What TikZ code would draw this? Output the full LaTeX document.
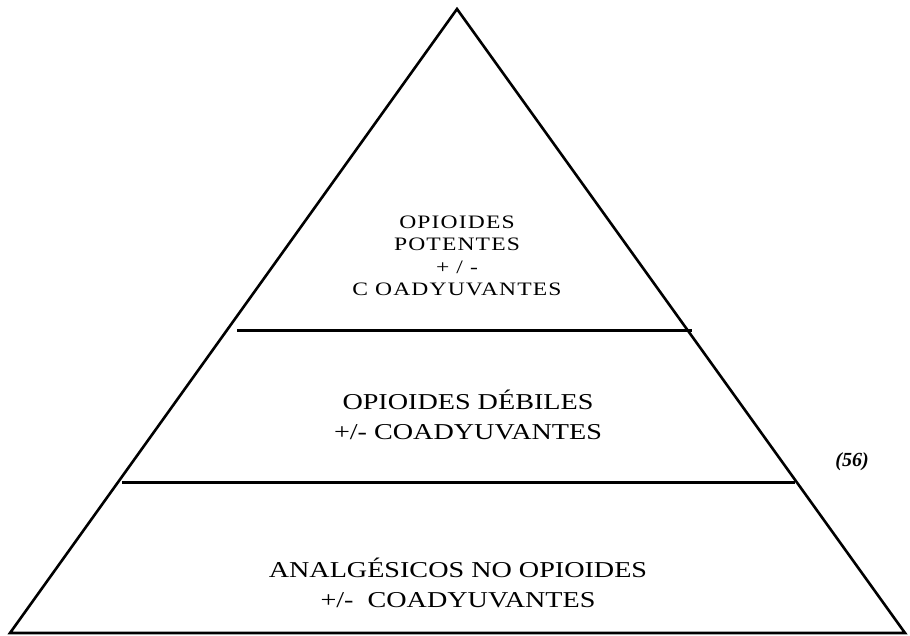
\documentclass[tikz,border=0pt]{standalone}
\usepackage{fontspec}
\setmainfont{Liberation Serif}[FakeStretch=1.24]
\newfontfamily\refnumfont{Liberation Serif}
\begin{document}
\begin{tikzpicture}[x=1pt,y=-1pt,
  edge/.style={line width=2.6pt, line join=miter},
  sepline/.style={line width=3pt},
  lbl/.style={align=center, inner sep=0pt, font=\fontsize{22.7}{30}\selectfont},
  toplbl/.style={align=center, inner sep=0pt, font=\fontsize{19}{22.5}\selectfont\addfontfeature{LetterSpace=6}},
  refl/.style={inner sep=0pt, font=\refnumfont\fontsize{20}{24}\selectfont\bfseries\itshape}]
\useasboundingbox (0,0) rectangle (910,636);
\coordinate (L) at (10,633);
\coordinate (T) at (457,9);
\coordinate (R) at (905,633);
\draw[edge] (L) -- (T) -- (R) -- cycle;
\coordinate (a1) at (237,330);
\coordinate (a2) at (692,330);
\draw[sepline] (a1) -- (a2);
\coordinate (b1) at (122,482);
\coordinate (b2) at (795,482);
\draw[sepline] (b1) -- (b2);
\node[toplbl] (top) at (457,256) {OPIOIDES\\POTENTES\\+ / -\\C OADYUVANTES};
\node[lbl] (mid) at (468,415) {OPIOIDES DÉBILES\\+/- COADYUVANTES};
\node[lbl] (bot) at (458,583) {ANALGÉSICOS NO OPIOIDES\\+/-~~COADYUVANTES};
\node[refl] (ref) at (852,462) {(56)};
\end{tikzpicture}
\end{document}
